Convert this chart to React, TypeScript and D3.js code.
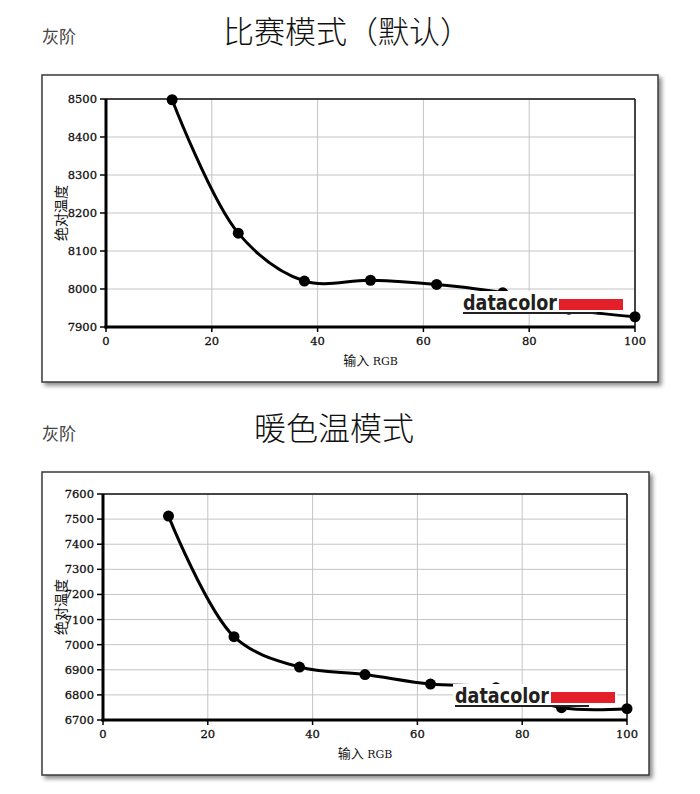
import React from "react";
import * as d3 from "d3";

const xValues = [12.5, 25, 37.5, 50, 62.5, 75, 87.5, 100];
const competitionTemps = [8498, 8147, 8021, 8023, 8012, 7990, 7947, 7927];
const warmTemps = [7512, 7032, 6911, 6881, 6843, 6828, 6749, 6745];
const xTicks = [0, 20, 40, 60, 80, 100];
const competitionYTicks = [7900, 8000, 8100, 8200, 8300, 8400, 8500];
const warmYTicks = [6700, 6800, 6900, 7000, 7100, 7200, 7300, 7400, 7500, 7600];
const sectionLabel = "灰阶";
const competitionTitle = "比赛模式（默认）";
const warmTitle = "暖色温模式";
const yAxisLabel = "绝对温度";
const xAxisLabel = ["输入", "RGB"];

const CJK = '"Noto Sans CJK SC", "Noto Sans", sans-serif';
const TICKFONT = '"DejaVu Serif", serif';

type ChartProps = {
  frame: { x: number; y: number; w: number; h: number };
  plot: { l: number; t: number; r: number; b: number };
  values: number[];
  yTicks: number[];
};

function Chart({ frame, plot, values, yTicks }: ChartProps) {
  const x = d3.scaleLinear().domain([0, 100]).range([plot.l, plot.r]);
  const y = d3
    .scaleLinear()
    .domain([yTicks[0], yTicks[yTicks.length - 1]])
    .range([plot.b, plot.t]);
  const pts: [number, number][] = xValues.map((v, i) => [x(v), y(values[i])]);
  const line = d3.line().curve(d3.curveCatmullRom.alpha(0.5))(pts) || "";
  const logoLeft = plot.r - 172;
  const logoBase = plot.b - 17;
  const redRight = plot.r - 12;
  const redLeft = redRight - 64;
  return (
    <g>
      <rect
        x={frame.x}
        y={frame.y}
        width={frame.w}
        height={frame.h}
        fill="#fff"
        stroke="#3a3a3a"
        strokeWidth={1.5}
        filter="url(#shadow)"
      />
      {yTicks.map((t) => (
        <line key={"gy" + t} x1={plot.l} x2={plot.r} y1={y(t)} y2={y(t)} stroke="#c4c4c4" strokeWidth={1} />
      ))}
      {xTicks.map((t) => (
        <line key={"gx" + t} x1={x(t)} x2={x(t)} y1={plot.t} y2={plot.b} stroke="#c4c4c4" strokeWidth={1} />
      ))}
      <line x1={plot.l} x2={plot.r} y1={plot.t} y2={plot.t} stroke="#111" strokeWidth={1.5} />
      <line x1={plot.r} x2={plot.r} y1={plot.t} y2={plot.b} stroke="#111" strokeWidth={1.5} />
      <path d={line} fill="none" stroke="#000" strokeWidth={3} />
      {pts.map((p, i) => (
        <circle key={"p" + i} cx={p[0]} cy={p[1]} r={5.5} fill="#000" />
      ))}
      {/* logo */}
      <rect x={logoLeft - 2} y={logoBase - 19} width={redRight - logoLeft + 4} height={21} fill="#fff" />
      <text
        x={logoLeft}
        y={logoBase}
        fontFamily='"DejaVu Sans", sans-serif'
        fontWeight={700}
        fontSize={21}
        textLength={redLeft - logoLeft - 2}
        lengthAdjust="spacingAndGlyphs"
        fill="#231f20"
      >
        datacolor
      </text>
      <rect x={redLeft} y={logoBase - 11} width={redRight - redLeft} height={11} fill="#e3202a" />
      <line x1={logoLeft} x2={plot.r - 38} y1={logoBase + 3} y2={logoBase + 3} stroke="#231f20" strokeWidth={2} />
      {/* axes */}
      <line x1={plot.l} x2={plot.l} y1={plot.t} y2={plot.b + 1.5} stroke="#000" strokeWidth={3} />
      <line x1={plot.l - 1.5} x2={plot.r} y1={plot.b} y2={plot.b} stroke="#000" strokeWidth={3} />
      {yTicks.map((t) => (
        <g key={"ty" + t}>
          <line x1={plot.l - 6} x2={plot.l} y1={y(t)} y2={y(t)} stroke="#000" strokeWidth={1.5} />
          <text x={plot.l - 9} y={y(t)} dy="0.35em" textAnchor="end" fontFamily={TICKFONT} fontSize={11.5} fill="#111" stroke="#111" strokeWidth={0.3}>
            {t}
          </text>
        </g>
      ))}
      {xTicks.map((t) => (
        <g key={"tx" + t}>
          <line x1={x(t)} x2={x(t)} y1={plot.b} y2={plot.b + 5} stroke="#000" strokeWidth={1.5} />
          <text x={x(t)} y={plot.b + 18} textAnchor="middle" fontFamily={TICKFONT} fontSize={11.5} fill="#111" stroke="#111" strokeWidth={0.3}>
            {t}
          </text>
        </g>
      ))}
      <text
        transform={`translate(${frame.x + 24},${(plot.t + plot.b) / 2}) rotate(-90)`}
        textAnchor="middle"
        fontFamily={CJK}
        fontSize={14}
        fill="#111"
      >
        {yAxisLabel}
      </text>
      <text
        x={(plot.l + plot.r) / 2}
        y={plot.b + 38}
        textAnchor="middle"
        fontFamily={CJK}
        fontSize={12}
        fill="#111"
      >
        <tspan fontSize={13}>{xAxisLabel[0]}</tspan>
        <tspan fontFamily={TICKFONT} fontSize={11}> {xAxisLabel[1]}</tspan>
      </text>
    </g>
  );
}

export default function App() {
  return (
    <svg
      width={700}
      height={794}
      style={{ position: "absolute", left: 0, top: 0, background: "#fff" }}
    >
      <defs>
        <filter id="shadow" x="-5%" y="-5%" width="115%" height="115%">
          <feDropShadow dx={3} dy={3} stdDeviation={2} floodColor="#000" floodOpacity={0.45} />
        </filter>
      </defs>
      <rect x={0} y={0} width={700} height={794} fill="#fff" />
      <text x={42} y={43} fontFamily={CJK} fontSize={17} fill="#444">{sectionLabel}</text>
      <text x={347} y={43} textAnchor="middle" fontFamily={CJK} fontWeight={300} fontSize={31} fill="#111">
        {competitionTitle}
      </text>
      <Chart
        frame={{ x: 42, y: 75, w: 616, h: 307 }}
        plot={{ l: 106, t: 99, r: 635, b: 327 }}
        values={competitionTemps}
        yTicks={competitionYTicks}
      />
      <text x={42} y={440} fontFamily={CJK} fontSize={17} fill="#444">{sectionLabel}</text>
      <text x={334} y={440} textAnchor="middle" fontFamily={CJK} fontWeight={300} fontSize={32} fill="#111">
        {warmTitle}
      </text>
      <Chart
        frame={{ x: 42, y: 472, w: 607, h: 303 }}
        plot={{ l: 103, t: 494, r: 627, b: 720 }}
        values={warmTemps}
        yTicks={warmYTicks}
      />
    </svg>
  );
}
